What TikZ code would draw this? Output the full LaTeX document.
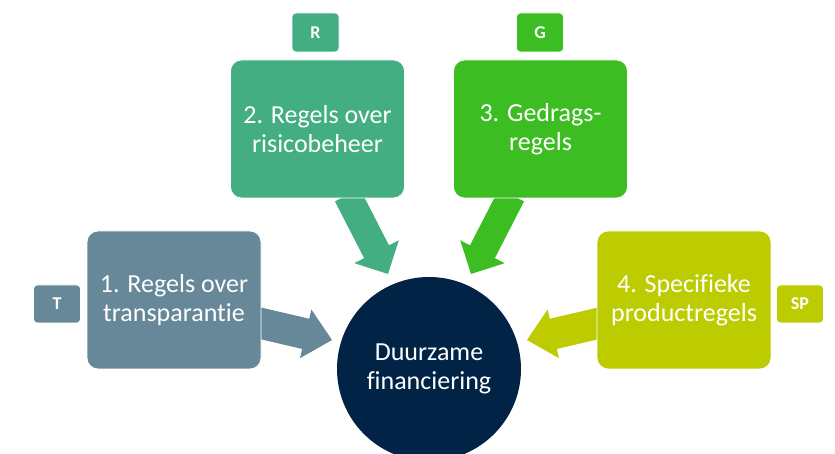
\documentclass[tikz,border=0pt]{standalone}
\usepackage{fontspec}
\setmainfont{Carlito}[Ligatures=NoCommon]
\usetikzlibrary{calc}
\definecolor{cone}{RGB}{102,136,152}
\definecolor{ctwo}{RGB}{66,174,130}
\definecolor{cthree}{RGB}{60,190,34}
\definecolor{cfour}{RGB}{189,204,0}
\definecolor{ccore}{RGB}{0,35,70}
\newcommand\blockarrow[6]{%
  \fill[#6] let \p1=(#1), \p2=(#2), \n1={atan2(\y2-\y1,\x2-\x1)}, \n2={veclen(\x2-\x1,\y2-\y1)} in
  [shift={(\p1)}, rotate=\n1] (0,-#3) -- (\n2-#5,-#3) -- (\n2-#5,-#4) -- (\n2,0) -- (\n2-#5,#4) -- (\n2-#5,#3) -- (0,#3) -- cycle;}
\begin{document}
\begin{tikzpicture}[x=1pt,y=1pt,
  bigbox/.style={draw=white, line width=0.8pt, rounded corners=11pt, minimum width=174pt, minimum height=138pt,
    text=white, align=center, font=\fontsize{26}{28.5}\selectfont, inner sep=0pt},
  tagbox/.style={draw=white, line width=0.6pt, rounded corners=4pt, minimum width=47pt, minimum height=38pt,
    text=white, font=\fontsize{18}{20}\selectfont\bfseries, inner sep=0pt},
  core/.style={circle, fill=ccore, minimum size=184pt, inner sep=0pt, text=white, align=center,
    font=\fontsize{26}{28.5}\selectfont}]
\useasboundingbox (0,0) rectangle (835,454);
\clip (0,0) rectangle (835,454);
\fill[white] (0,0) rectangle (835,454);
% centre
\node[core] (c) at (429,85) {Duurzame\\financiering};
% arrow end points
\coordinate (s1) at (255,132);  \coordinate (e1) at (332,114);
\coordinate (s2) at (347.4,259); \coordinate (e2) at (388,180);
\coordinate (s3) at (511.6,259); \coordinate (e3) at (471,180);
\coordinate (s4) at (604,132);  \coordinate (e4) at (527,114);
\blockarrow{s1}{e1}{15.5}{25}{27}{cone}
\blockarrow{s2}{e2}{14}{25}{25}{ctwo}
\blockarrow{s3}{e3}{14}{25}{25}{cthree}
\blockarrow{s4}{e4}{15.5}{25}{27}{cfour}
% boxes
\node[bigbox, fill=cone] (b1) at (174,154) {1. Regels over\\transparantie};
\node[bigbox, fill=ctwo] (b2) at (317.5,325) {2. Regels over\\risicobeheer};
\node[bigbox, fill=cthree] (b3) at (540.5,325) {3. Gedrags-\\regels};
\node[bigbox, fill=cfour] (b4) at (684,154) {4. Specifieke\\productregels};
% tags
\node[tagbox, fill=cone] (t1) at (57,150) {T};
\node[tagbox, fill=ctwo, minimum height=39pt] (t2) at (315.5,421.5) {R};
\node[tagbox, fill=cthree, minimum height=39pt] (t3) at (540,421.5) {G};
\node[tagbox, fill=cfour] (t4) at (800,150) {SP};
\end{tikzpicture}
\end{document}
